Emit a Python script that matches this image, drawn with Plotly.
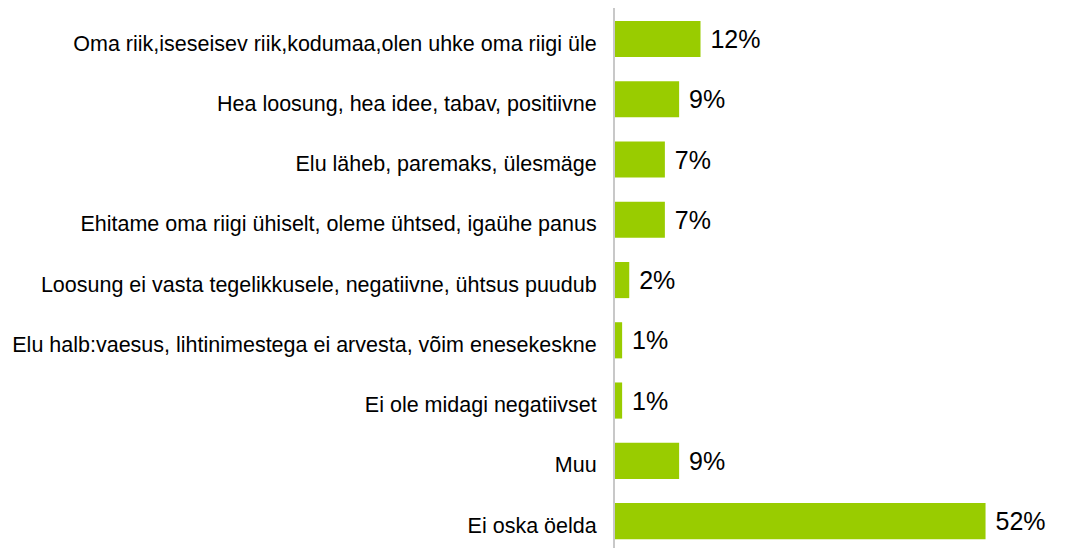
import plotly.graph_objects as go

GREEN = '#99CC00'
AXIS = '#C8C8C8'

categories = [
    'Oma riik,iseseisev riik,kodumaa,olen uhke oma riigi üle',
    'Hea loosung, hea idee, tabav, positiivne',
    'Elu läheb, paremaks, ülesmäge',
    'Ehitame oma riigi ühiselt, oleme ühtsed, igaühe panus',
    'Loosung ei vasta tegelikkusele, negatiivne, ühtsus puudub',
    'Elu halb:vaesus, lihtinimestega ei arvesta, võim enesekeskne',
    'Ei ole midagi negatiivset',
    'Muu',
    'Ei oska öelda',
]
values = [12, 9, 7, 7, 2, 1, 1, 9, 52]
labels = [' %d%%' % v for v in values]

fig = go.Figure()
fig.add_bar(
    x=values, y=categories, orientation='h',
    marker=dict(color=GREEN, line=dict(width=0)),
    width=0.6,
    text=labels, textposition='outside', cliponaxis=False,
    textfont=dict(family='Liberation Sans, Arial', size=25, color='#000000'),
)
# page body has an 8px margin, so offsets are shifted to compensate
fig.update_layout(
    width=1091, height=548,
    margin=dict(l=607, r=8, t=0, b=0),
    plot_bgcolor='white', paper_bgcolor='white',
    showlegend=False,
    font=dict(family='Liberation Sans, Arial', size=21.5, color='#000000'),
)
fig.update_xaxes(range=[0, 66.8], visible=False, fixedrange=True)
fig.update_yaxes(
    range=[8.58, -0.515], showline=True, linecolor=AXIS, linewidth=2,
    showgrid=False, ticks='', ticklabelstandoff=12, ticklabelshift=-4,
    automargin=False, fixedrange=True,
)

fig.write_html('out.html')
